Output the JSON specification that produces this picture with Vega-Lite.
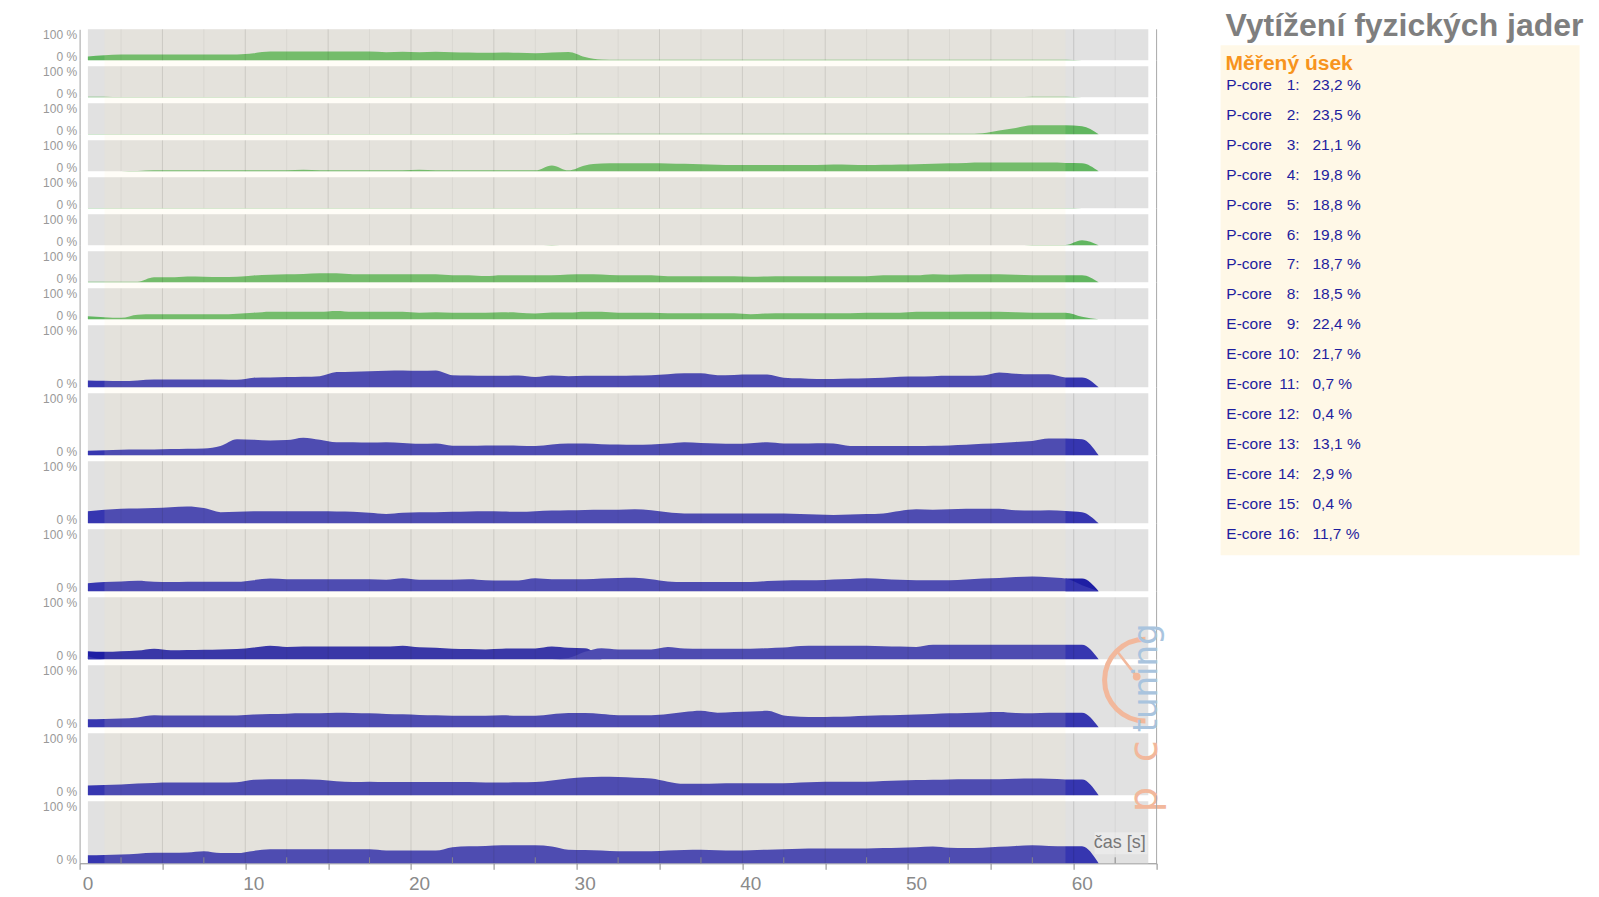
{
"$schema":"https://vega.github.io/schema/vega-lite/v6.json",
"background":"white",
"padding":{"left":41.6,"top":10.3,"right":5,"bottom":0},
"autosize":{"type":"pad"},
"config":{"view":{"stroke":null},"font":"Liberation Sans"},
"datasets":{
"load":[
{"t":0.5,"P1":12,"P2":2,"P3":1,"P4":0.5,"P5":1,"P6":0,"P7":2,"P8":10,"E9":11,"E10":7.5,"E11":19.5,"E12":13,"E13":5,"E14":13,"E15":16,"E16":13,"E13b":13},
{"t":1.5,"P1":16,"P2":2,"P3":1,"P4":0.5,"P5":1,"P6":0,"P7":2,"P8":7,"E9":10.5,"E10":8,"E11":22,"E12":15,"E13":0,"E14":13.5,"E15":16.5,"E16":13.5,"E13b":12},
{"t":2.5,"P1":19,"P2":1,"P3":1,"P4":0.5,"P5":1,"P6":0,"P7":2,"P8":5,"E9":10,"E10":9,"E11":23.5,"E12":16,"E13":0,"E14":14,"E15":17.5,"E16":14,"E13b":13},
{"t":3.5,"P1":19,"P2":1,"P3":1,"P4":1,"P5":1,"P6":0,"P7":2,"P8":15,"E9":11,"E10":9.5,"E11":24,"E12":17,"E13":0,"E14":16,"E15":19,"E16":15.5,"E13b":14},
{"t":4.5,"P1":19,"P2":1,"P3":1,"P4":3,"P5":1,"P6":0,"P7":16,"P8":16,"E9":12.5,"E10":9.5,"E11":24.5,"E12":15.5,"E13":0,"E14":19.5,"E15":20,"E16":17,"E13b":17},
{"t":5.5,"P1":19,"P2":1,"P3":1,"P4":3,"P5":1,"P6":0,"P7":16,"P8":16,"E9":12.5,"E10":10,"E11":26,"E12":15,"E13":0,"E14":19,"E15":20.5,"E16":17,"E13b":14.5},
{"t":6.5,"P1":19,"P2":1,"P3":1,"P4":3,"P5":1,"P6":0,"P7":19,"P8":16,"E9":12.5,"E10":10.5,"E11":27,"E12":15.5,"E13":0,"E14":19,"E15":20.5,"E16":17.5,"E13b":15},
{"t":7.5,"P1":19,"P2":1,"P3":1,"P4":3,"P5":1,"P6":0,"P7":18,"P8":16,"E9":12.5,"E10":11,"E11":24.5,"E12":15.5,"E13":0,"E14":19,"E15":20.5,"E16":19.5,"E13b":15.5},
{"t":8.5,"P1":19,"P2":1,"P3":1,"P4":3,"P5":1,"P6":0,"P7":17,"P8":16,"E9":12.5,"E10":15,"E11":18,"E12":15.5,"E13":0,"E14":19,"E15":20.5,"E16":16.5,"E13b":16},
{"t":9.5,"P1":19,"P2":1,"P3":1,"P4":3,"P5":1,"P6":0,"P7":18,"P8":18,"E9":12,"E10":26,"E11":18.5,"E12":15.5,"E13":0,"E14":19,"E15":21,"E16":16.5,"E13b":16.5},
{"t":10.5,"P1":23,"P2":1,"P3":1,"P4":3,"P5":1,"P6":0,"P7":22,"P8":21,"E9":15.5,"E10":25,"E11":19.5,"E12":18,"E13":0,"E14":20.5,"E15":25,"E16":20,"E13b":19},
{"t":11.5,"P1":28,"P2":1,"P3":1,"P4":3,"P5":1,"P6":0,"P7":24,"P8":24.5,"E9":16,"E10":24,"E11":19.5,"E12":20.5,"E13":0,"E14":21.5,"E15":26,"E16":22.5,"E13b":22},
{"t":12.5,"P1":28,"P2":1,"P3":1,"P4":3,"P5":1,"P6":0,"P7":26,"P8":24.5,"E9":16.5,"E10":24.5,"E11":19.5,"E12":19.5,"E13":0,"E14":22,"E15":26,"E16":22.5,"E13b":20},
{"t":13.5,"P1":28,"P2":1,"P3":1,"P4":5,"P5":1,"P6":0,"P7":27,"P8":24.5,"E9":17,"E10":28.5,"E11":19.5,"E12":19.5,"E13":0,"E14":22.5,"E15":26,"E16":22.5,"E13b":20.5},
{"t":14.5,"P1":28,"P2":1,"P3":1,"P4":3,"P5":1,"P6":0,"P7":29,"P8":24.5,"E9":18,"E10":25,"E11":19.5,"E12":19.5,"E13":0,"E14":22.5,"E15":25,"E16":22.5,"E13b":20.5},
{"t":15.5,"P1":28,"P2":1,"P3":1,"P4":3,"P5":1,"P6":0,"P7":29,"P8":27,"E9":24.5,"E10":21,"E11":19,"E12":19.5,"E13":0,"E14":23.5,"E15":22.5,"E16":22.5,"E13b":20.5},
{"t":16.5,"P1":28,"P2":1,"P3":1,"P4":3,"P5":1,"P6":0,"P7":26,"P8":24.5,"E9":25,"E10":21,"E11":18.5,"E12":19.5,"E13":0,"E14":23,"E15":21.5,"E16":22.5,"E13b":20.5},
{"t":17.5,"P1":28,"P2":1,"P3":1,"P4":3,"P5":1,"P6":0,"P7":26,"P8":24.5,"E9":26,"E10":20.5,"E11":17,"E12":19.5,"E13":0,"E14":22.5,"E15":22,"E16":22.5,"E13b":20.5},
{"t":18.5,"P1":26,"P2":1,"P3":1,"P4":3,"P5":1,"P6":0,"P7":26,"P8":24.5,"E9":26.5,"E10":21,"E11":15,"E12":18.5,"E13":0,"E14":21.5,"E15":21.5,"E16":20.5,"E13b":20.5},
{"t":19.5,"P1":27.5,"P2":1,"P3":1,"P4":3,"P5":1,"P6":0,"P7":26,"P8":24.5,"E9":27,"E10":20,"E11":17,"E12":21,"E13":0,"E14":21,"E15":21.5,"E16":20.5,"E13b":22},
{"t":20.5,"P1":26,"P2":1,"P3":1,"P4":5,"P5":1,"P6":0,"P7":26,"P8":21.5,"E9":26.5,"E10":18.5,"E11":18,"E12":18.5,"E13":0,"E14":20,"E15":21.5,"E16":20.5,"E13b":19.5},
{"t":21.5,"P1":27.5,"P2":1,"P3":1,"P4":3,"P5":1,"P6":0,"P7":26,"P8":23,"E9":27,"E10":19,"E11":18,"E12":18.5,"E13":0,"E14":19.5,"E15":21.5,"E16":20.5,"E13b":18.5},
{"t":22.5,"P1":26,"P2":1,"P3":1,"P4":3,"P5":1,"P6":0,"P7":23,"P8":21.5,"E9":19.5,"E10":15.5,"E11":18.5,"E12":18.5,"E13":0,"E14":18.5,"E15":21.5,"E16":26,"E13b":17},
{"t":23.5,"P1":25,"P2":1,"P3":1,"P4":3,"P5":1,"P6":0,"P7":23,"P8":21.5,"E9":19,"E10":15.5,"E11":19,"E12":19.5,"E13":0,"E14":18.5,"E15":21.5,"E16":27.5,"E13b":16.5},
{"t":24.5,"P1":24,"P2":1,"P3":1,"P4":3,"P5":1,"P6":0,"P7":20,"P8":21.5,"E9":18.5,"E10":16,"E11":19.5,"E12":18,"E13":0,"E14":18.5,"E15":20.5,"E16":28,"E13b":16},
{"t":25.5,"P1":25.5,"P2":1,"P3":1,"P4":3,"P5":1,"P6":0,"P7":22.5,"P8":22.5,"E9":18.5,"E10":16,"E11":19,"E12":17.5,"E13":0,"E14":19.5,"E15":20.5,"E16":29,"E13b":17},
{"t":26.5,"P1":24,"P2":1,"P3":1,"P4":3,"P5":1,"P6":0,"P7":22.5,"P8":21.5,"E9":19,"E10":15.5,"E11":18.5,"E12":17.5,"E13":0,"E14":18.5,"E15":21,"E16":29,"E13b":17.5},
{"t":27.5,"P1":23,"P2":1,"P3":1,"P4":3,"P5":1,"P6":0,"P7":22.5,"P8":19,"E9":16.5,"E10":15,"E11":19.5,"E12":21,"E13":0,"E14":18.5,"E15":21.5,"E16":29,"E13b":17.5},
{"t":28.5,"P1":25,"P2":1,"P3":1,"P4":19,"P5":1,"P6":1,"P7":22.5,"P8":22,"E9":19,"E10":17.5,"E11":20.5,"E12":19.5,"E13":0,"E14":21,"E15":24,"E16":27,"E13b":20.5},
{"t":29.5,"P1":27,"P2":1,"P3":1,"P4":3,"P5":1,"P6":0,"P7":25,"P8":22,"E9":18,"E10":19,"E11":21,"E12":19.5,"E13":2,"E14":23,"E15":27,"E16":22,"E13b":18.5},
{"t":30.5,"P1":11,"P2":1,"P3":1.5,"P4":19,"P5":1,"P6":0,"P7":26,"P8":24.5,"E9":18.5,"E10":19,"E11":21.5,"E12":19.5,"E13":12,"E14":23,"E15":29,"E16":21.5,"E13b":18},
{"t":31.5,"P1":2.5,"P2":1,"P3":1.5,"P4":25,"P5":1,"P6":0,"P7":25,"P8":24.5,"E9":18.5,"E10":18,"E11":22,"E12":20.5,"E13":18,"E14":21.5,"E15":30,"E16":20.5,"E13b":0},
{"t":32.5,"P1":1.5,"P2":1,"P3":1.5,"P4":26,"P5":1,"P6":0,"P7":22.5,"P8":21.5,"E9":18.5,"E10":17.5,"E11":22,"E12":21.5,"E13":16,"E14":19.5,"E15":29.5,"E16":19.5},
{"t":33.5,"P1":1.5,"P2":1,"P3":1.5,"P4":26,"P5":1,"P6":0,"P7":22.5,"P8":21.5,"E9":19,"E10":17,"E11":22.5,"E12":22,"E13":16,"E14":19.5,"E15":28.5,"E16":19.5},
{"t":34.5,"P1":1.5,"P2":1,"P3":1.5,"P4":26,"P5":1,"P6":0,"P7":22.5,"P8":21.5,"E9":19.5,"E10":17.5,"E11":21,"E12":19.5,"E13":16,"E14":19.5,"E15":27,"E16":19.5},
{"t":35.5,"P1":1.5,"P2":1,"P3":1.5,"P4":25,"P5":1,"P6":0,"P7":19.5,"P8":19.5,"E9":21,"E10":19,"E11":18,"E12":16,"E13":20,"E14":21.5,"E15":22,"E16":20.5},
{"t":36.5,"P1":1.5,"P2":1,"P3":1.5,"P4":24,"P5":1,"P6":0,"P7":19.5,"P8":19.5,"E9":22.5,"E10":21,"E11":16,"E12":15,"E13":17.5,"E14":24.5,"E15":18.5,"E16":21.5},
{"t":37.5,"P1":1.5,"P2":1,"P3":1.5,"P4":22.5,"P5":1,"P6":0,"P7":19.5,"P8":19.5,"E9":22.5,"E10":20,"E11":16,"E12":15,"E13":17,"E14":26.5,"E15":18.5,"E16":22},
{"t":38.5,"P1":1.5,"P2":1,"P3":1.5,"P4":21,"P5":1,"P6":0,"P7":19.5,"P8":19.5,"E9":19.5,"E10":19,"E11":16,"E12":15,"E13":17,"E14":23.5,"E15":19,"E16":21},
{"t":39.5,"P1":1.5,"P2":1,"P3":1.5,"P4":20,"P5":1,"P6":0,"P7":19.5,"P8":19.5,"E9":20,"E10":18.5,"E11":16,"E12":15,"E13":17,"E14":24.5,"E15":19.5,"E16":20.5},
{"t":40.5,"P1":1.5,"P2":1,"P3":1.5,"P4":20,"P5":1,"P6":0,"P7":18,"P8":16.5,"E9":20.5,"E10":19.5,"E11":16,"E12":15,"E13":17,"E14":25.5,"E15":19.5,"E16":21},
{"t":41.5,"P1":1.5,"P2":1,"P3":1.5,"P4":20,"P5":1,"P6":0,"P7":19,"P8":19,"E9":20.5,"E10":21,"E11":16,"E12":16.5,"E13":18,"E14":26.5,"E15":19.5,"E16":22},
{"t":42.5,"P1":1.5,"P2":1,"P3":1.5,"P4":20,"P5":1,"P6":0,"P7":19.5,"P8":19.5,"E9":15.5,"E10":19,"E11":16,"E12":17.5,"E13":19,"E14":19,"E15":19.5,"E16":22.5},
{"t":43.5,"P1":1.5,"P2":1,"P3":1.5,"P4":20,"P5":1,"P6":0,"P7":19.5,"P8":19.5,"E9":14.5,"E10":19,"E11":15,"E12":18,"E13":21.5,"E14":17,"E15":20.5,"E16":23.5},
{"t":44.5,"P1":1.5,"P2":1,"P3":1.5,"P4":20,"P5":1,"P6":0,"P7":19.5,"P8":19.5,"E9":13.5,"E10":19.5,"E11":14,"E12":18,"E13":22,"E14":16.5,"E15":21.5,"E16":24},
{"t":45.5,"P1":1.5,"P2":1,"P3":1.5,"P4":22,"P5":1,"P6":0,"P7":19.5,"P8":19.5,"E9":13.5,"E10":19,"E11":13.5,"E12":19,"E13":22,"E14":17,"E15":22,"E16":24},
{"t":46.5,"P1":1.5,"P2":1,"P3":1.5,"P4":21,"P5":1,"P6":0,"P7":19.5,"P8":19.5,"E9":14,"E10":15,"E11":14,"E12":20,"E13":22,"E14":17.5,"E15":22,"E16":24},
{"t":47.5,"P1":1.5,"P2":1,"P3":1.5,"P4":20,"P5":1,"P6":0,"P7":19.5,"P8":21.5,"E9":14.5,"E10":15,"E11":15,"E12":21,"E13":22,"E14":18.5,"E15":22,"E16":24},
{"t":48.5,"P1":1.5,"P2":1,"P3":1.5,"P4":21,"P5":1,"P6":0,"P7":22.5,"P8":21.5,"E9":15.5,"E10":15,"E11":16,"E12":20,"E13":21,"E14":19.5,"E15":23,"E16":24.5},
{"t":49.5,"P1":1.5,"P2":1,"P3":1.5,"P4":22,"P5":1,"P6":0,"P7":22.5,"P8":21.5,"E9":17,"E10":15,"E11":20,"E12":18.5,"E13":20.5,"E14":20,"E15":24,"E16":25},
{"t":50.5,"P1":1.5,"P2":1,"P3":1.5,"P4":23,"P5":1,"P6":0,"P7":22.5,"P8":24.5,"E9":17.5,"E10":15,"E11":22.5,"E12":18,"E13":20,"E14":20.5,"E15":24.5,"E16":26},
{"t":51.5,"P1":1.5,"P2":1,"P3":1.5,"P4":24,"P5":1,"P6":0,"P7":26,"P8":24.5,"E9":18,"E10":15.5,"E11":22,"E12":18,"E13":23.5,"E14":21.5,"E15":25,"E16":27},
{"t":52.5,"P1":1.5,"P2":1,"P3":1.5,"P4":26,"P5":1,"P6":0,"P7":24,"P8":24.5,"E9":18.5,"E10":16,"E11":22.5,"E12":18,"E13":23.5,"E14":22.5,"E15":25.5,"E16":25},
{"t":53.5,"P1":1.5,"P2":1,"P3":1.5,"P4":27,"P5":1,"P6":0,"P7":26,"P8":24.5,"E9":18.5,"E10":17,"E11":23.5,"E12":19,"E13":23.5,"E14":23,"E15":26,"E16":24.5},
{"t":54.5,"P1":1.5,"P2":1,"P3":3.5,"P4":28,"P5":1,"P6":0,"P7":26,"P8":24.5,"E9":19,"E10":18.5,"E11":23.5,"E12":20.5,"E13":23.5,"E14":24,"E15":26,"E16":25},
{"t":55.5,"P1":1.5,"P2":1,"P3":12,"P4":28,"P5":1,"P6":0,"P7":26,"P8":24.5,"E9":24,"E10":20,"E11":23.5,"E12":21.5,"E13":23.5,"E14":24.5,"E15":26,"E16":26.5},
{"t":56.5,"P1":1.5,"P2":1,"P3":20.5,"P4":28,"P5":1,"P6":0,"P7":24,"P8":23,"E9":22,"E10":21.5,"E11":21,"E12":23,"E13":23.5,"E14":23,"E15":26.5,"E16":28},
{"t":57.5,"P1":1.5,"P2":2,"P3":29,"P4":28,"P5":1,"P6":1,"P7":22.5,"P8":21.5,"E9":21,"E10":23,"E11":20.5,"E12":24,"E13":23.5,"E14":22.5,"E15":27,"E16":29},
{"t":58.5,"P1":1.5,"P2":2,"P3":29,"P4":28,"P5":1,"P6":1,"P7":22.5,"P8":21.5,"E9":21,"E10":27,"E11":21,"E12":22.5,"E13":23.5,"E14":23.5,"E15":26.5,"E16":28},
{"t":59.5,"P1":1.5,"P2":2,"P3":29,"P4":27,"P5":1,"P6":1,"P7":22.5,"P8":21.5,"E9":16,"E10":27,"E11":20,"E12":20.5,"E13":23.5,"E14":23.5,"E15":25.5,"E16":27.5,"E12b":20.5},
{"t":60.5,"P1":0,"P2":0.5,"P3":26,"P4":26,"P5":0.5,"P6":16,"P7":22.5,"P8":8.5,"E9":16,"E10":26,"E11":18,"E12":9.7,"E13":23.5,"E14":23.5,"E15":25.5,"E16":27.5,"E12b":20.5},
{"t":61.5,"P1":0,"P2":0,"P3":0,"P4":0,"P5":0,"P6":0,"P7":0,"P8":0,"E9":0,"E10":0,"E11":0,"E12":0,"E13":0,"E14":0,"E15":0,"E16":0,"E12b":0}
],
"grid":[{"g":2.5},{"g":5},{"g":7.5},{"g":10},{"g":12.5},{"g":15},{"g":17.5},{"g":20},{"g":22.5},{"g":25},{"g":27.5},{"g":30},{"g":32.5},{"g":35},{"g":37.5},{"g":40},{"g":42.5},{"g":45},{"g":47.5},{"g":50},{"g":52.5},{"g":55},{"g":57.5},{"g":60},{"g":62.5}],
"legend":[
{"id":"P1","kind":"P-core","num":"1:","val":"23,2 %"},
{"id":"P2","kind":"P-core","num":"2:","val":"23,5 %"},
{"id":"P3","kind":"P-core","num":"3:","val":"21,1 %"},
{"id":"P4","kind":"P-core","num":"4:","val":"19,8 %"},
{"id":"P5","kind":"P-core","num":"5:","val":"18,8 %"},
{"id":"P6","kind":"P-core","num":"6:","val":"19,8 %"},
{"id":"P7","kind":"P-core","num":"7:","val":"18,7 %"},
{"id":"P8","kind":"P-core","num":"8:","val":"18,5 %"},
{"id":"E9","kind":"E-core","num":"9:","val":"22,4 %"},
{"id":"E10","kind":"E-core","num":"10:","val":"21,7 %"},
{"id":"E11","kind":"E-core","num":"11:","val":"0,7 %"},
{"id":"E12","kind":"E-core","num":"12:","val":"0,4 %"},
{"id":"E13","kind":"E-core","num":"13:","val":"13,1 %"},
{"id":"E14","kind":"E-core","num":"14:","val":"2,9 %"},
{"id":"E15","kind":"E-core","num":"15:","val":"0,4 %"},
{"id":"E16","kind":"E-core","num":"16:","val":"11,7 %"}
]
},
"spacing":56,
"hconcat":[
{"spacing":0,"bounds":"flush","vconcat":[
{"width":1077,"height":31,"layer":[
{"data":{"values":[{}]},"mark":{"type":"rect","fill":"#e1e1e1"},"encoding":{"x":{"datum":0.5,"type":"quantitative","scale":{"domain":[0,65],"nice":false,"zero":false},"axis":null},"x2":{"datum":64.5},"y":{"datum":0,"type":"quantitative","scale":{"domain":[0,100],"nice":false,"zero":false},"axis":{"values":[0,100],"labelExpr":"datum.value + ' %'","ticks":false,"grid":false,"domainColor":"#a0a0a0","labelColor":"#999999","labelFontSize":12,"labelPadding":3,"labelBaseline":{"condition":{"test":"datum.value === 100","value":"top"},"value":"alphabetic"},"title":null,"labelOverlap":false,"labelBound":false}},"y2":{"datum":100}}},
{"data":{"name":"load"},"mark":{"type":"area","color":"#61b660","interpolate":"monotone","orient":"vertical"},"encoding":{"x":{"field":"t","type":"quantitative","axis":null},"y":{"field":"P1","type":"quantitative","stack":null,"title":null}}},
{"data":{"name":"grid"},"mark":{"type":"rule","color":"#000000"},"encoding":{"x":{"field":"g","type":"quantitative","axis":null},"y":{"datum":0,"type":"quantitative","title":null},"y2":{"datum":100},"strokeOpacity":{"condition":{"test":"datum.g % 5 === 0","value":0.13},"value":0.06}}},
{"data":{"values":[{}]},"mark":{"type":"rect","fill":"#ffeec0","opacity":0.12},"encoding":{"x":{"datum":1.5,"type":"quantitative","axis":null},"x2":{"datum":59.5},"y":{"datum":0,"type":"quantitative","title":null},"y2":{"datum":100}}},
{"data":{"values":[{}]},"mark":{"type":"rule","color":"#a8a8a8"},"encoding":{"x":{"datum":65,"type":"quantitative","axis":null},"y":{"datum":0,"type":"quantitative","title":null},"y2":{"datum":100}}}
]},
{"width":1077,"height":37,"layer":[
{"data":{"values":[{}]},"mark":{"type":"rect","fill":"#e1e1e1"},"encoding":{"x":{"datum":0.5,"type":"quantitative","scale":{"domain":[0,65],"nice":false,"zero":false},"axis":null},"x2":{"datum":64.5},"y":{"datum":0,"type":"quantitative","scale":{"domain":[0,119.355],"nice":false,"zero":false},"axis":{"values":[0,100],"labelExpr":"datum.value + ' %'","ticks":false,"grid":false,"domainColor":"#a0a0a0","labelColor":"#999999","labelFontSize":12,"labelPadding":3,"labelBaseline":{"condition":{"test":"datum.value === 100","value":"top"},"value":"alphabetic"},"title":null,"labelOverlap":false,"labelBound":false}},"y2":{"datum":100}}},
{"data":{"name":"load"},"mark":{"type":"area","color":"#61b660","interpolate":"monotone","orient":"vertical"},"encoding":{"x":{"field":"t","type":"quantitative","axis":null},"y":{"field":"P2","type":"quantitative","stack":null,"title":null}}},
{"data":{"name":"grid"},"mark":{"type":"rule","color":"#000000"},"encoding":{"x":{"field":"g","type":"quantitative","axis":null},"y":{"datum":0,"type":"quantitative","title":null},"y2":{"datum":100},"strokeOpacity":{"condition":{"test":"datum.g % 5 === 0","value":0.13},"value":0.06}}},
{"data":{"values":[{}]},"mark":{"type":"rect","fill":"#ffeec0","opacity":0.12},"encoding":{"x":{"datum":1.5,"type":"quantitative","axis":null},"x2":{"datum":59.5},"y":{"datum":0,"type":"quantitative","title":null},"y2":{"datum":119.355}}},
{"data":{"values":[{}]},"mark":{"type":"rule","color":"#a8a8a8"},"encoding":{"x":{"datum":65,"type":"quantitative","axis":null},"y":{"datum":0,"type":"quantitative","title":null},"y2":{"datum":119.355}}}
]},
{"width":1077,"height":37,"layer":[
{"data":{"values":[{}]},"mark":{"type":"rect","fill":"#e1e1e1"},"encoding":{"x":{"datum":0.5,"type":"quantitative","scale":{"domain":[0,65],"nice":false,"zero":false},"axis":null},"x2":{"datum":64.5},"y":{"datum":0,"type":"quantitative","scale":{"domain":[0,119.355],"nice":false,"zero":false},"axis":{"values":[0,100],"labelExpr":"datum.value + ' %'","ticks":false,"grid":false,"domainColor":"#a0a0a0","labelColor":"#999999","labelFontSize":12,"labelPadding":3,"labelBaseline":{"condition":{"test":"datum.value === 100","value":"top"},"value":"alphabetic"},"title":null,"labelOverlap":false,"labelBound":false}},"y2":{"datum":100}}},
{"data":{"name":"load"},"mark":{"type":"area","color":"#61b660","interpolate":"monotone","orient":"vertical"},"encoding":{"x":{"field":"t","type":"quantitative","axis":null},"y":{"field":"P3","type":"quantitative","stack":null,"title":null}}},
{"data":{"name":"grid"},"mark":{"type":"rule","color":"#000000"},"encoding":{"x":{"field":"g","type":"quantitative","axis":null},"y":{"datum":0,"type":"quantitative","title":null},"y2":{"datum":100},"strokeOpacity":{"condition":{"test":"datum.g % 5 === 0","value":0.13},"value":0.06}}},
{"data":{"values":[{}]},"mark":{"type":"rect","fill":"#ffeec0","opacity":0.12},"encoding":{"x":{"datum":1.5,"type":"quantitative","axis":null},"x2":{"datum":59.5},"y":{"datum":0,"type":"quantitative","title":null},"y2":{"datum":119.355}}},
{"data":{"values":[{}]},"mark":{"type":"rule","color":"#a8a8a8"},"encoding":{"x":{"datum":65,"type":"quantitative","axis":null},"y":{"datum":0,"type":"quantitative","title":null},"y2":{"datum":119.355}}}
]},
{"width":1077,"height":37,"layer":[
{"data":{"values":[{}]},"mark":{"type":"rect","fill":"#e1e1e1"},"encoding":{"x":{"datum":0.5,"type":"quantitative","scale":{"domain":[0,65],"nice":false,"zero":false},"axis":null},"x2":{"datum":64.5},"y":{"datum":0,"type":"quantitative","scale":{"domain":[0,119.355],"nice":false,"zero":false},"axis":{"values":[0,100],"labelExpr":"datum.value + ' %'","ticks":false,"grid":false,"domainColor":"#a0a0a0","labelColor":"#999999","labelFontSize":12,"labelPadding":3,"labelBaseline":{"condition":{"test":"datum.value === 100","value":"top"},"value":"alphabetic"},"title":null,"labelOverlap":false,"labelBound":false}},"y2":{"datum":100}}},
{"data":{"name":"load"},"mark":{"type":"area","color":"#61b660","interpolate":"monotone","orient":"vertical"},"encoding":{"x":{"field":"t","type":"quantitative","axis":null},"y":{"field":"P4","type":"quantitative","stack":null,"title":null}}},
{"data":{"name":"grid"},"mark":{"type":"rule","color":"#000000"},"encoding":{"x":{"field":"g","type":"quantitative","axis":null},"y":{"datum":0,"type":"quantitative","title":null},"y2":{"datum":100},"strokeOpacity":{"condition":{"test":"datum.g % 5 === 0","value":0.13},"value":0.06}}},
{"data":{"values":[{}]},"mark":{"type":"rect","fill":"#ffeec0","opacity":0.12},"encoding":{"x":{"datum":1.5,"type":"quantitative","axis":null},"x2":{"datum":59.5},"y":{"datum":0,"type":"quantitative","title":null},"y2":{"datum":119.355}}},
{"data":{"values":[{}]},"mark":{"type":"rule","color":"#a8a8a8"},"encoding":{"x":{"datum":65,"type":"quantitative","axis":null},"y":{"datum":0,"type":"quantitative","title":null},"y2":{"datum":119.355}}}
]},
{"width":1077,"height":37,"layer":[
{"data":{"values":[{}]},"mark":{"type":"rect","fill":"#e1e1e1"},"encoding":{"x":{"datum":0.5,"type":"quantitative","scale":{"domain":[0,65],"nice":false,"zero":false},"axis":null},"x2":{"datum":64.5},"y":{"datum":0,"type":"quantitative","scale":{"domain":[0,119.355],"nice":false,"zero":false},"axis":{"values":[0,100],"labelExpr":"datum.value + ' %'","ticks":false,"grid":false,"domainColor":"#a0a0a0","labelColor":"#999999","labelFontSize":12,"labelPadding":3,"labelBaseline":{"condition":{"test":"datum.value === 100","value":"top"},"value":"alphabetic"},"title":null,"labelOverlap":false,"labelBound":false}},"y2":{"datum":100}}},
{"data":{"name":"load"},"mark":{"type":"area","color":"#61b660","interpolate":"monotone","orient":"vertical"},"encoding":{"x":{"field":"t","type":"quantitative","axis":null},"y":{"field":"P5","type":"quantitative","stack":null,"title":null}}},
{"data":{"name":"grid"},"mark":{"type":"rule","color":"#000000"},"encoding":{"x":{"field":"g","type":"quantitative","axis":null},"y":{"datum":0,"type":"quantitative","title":null},"y2":{"datum":100},"strokeOpacity":{"condition":{"test":"datum.g % 5 === 0","value":0.13},"value":0.06}}},
{"data":{"values":[{}]},"mark":{"type":"rect","fill":"#ffeec0","opacity":0.12},"encoding":{"x":{"datum":1.5,"type":"quantitative","axis":null},"x2":{"datum":59.5},"y":{"datum":0,"type":"quantitative","title":null},"y2":{"datum":119.355}}},
{"data":{"values":[{}]},"mark":{"type":"rule","color":"#a8a8a8"},"encoding":{"x":{"datum":65,"type":"quantitative","axis":null},"y":{"datum":0,"type":"quantitative","title":null},"y2":{"datum":119.355}}}
]},
{"width":1077,"height":37,"layer":[
{"data":{"values":[{}]},"mark":{"type":"rect","fill":"#e1e1e1"},"encoding":{"x":{"datum":0.5,"type":"quantitative","scale":{"domain":[0,65],"nice":false,"zero":false},"axis":null},"x2":{"datum":64.5},"y":{"datum":0,"type":"quantitative","scale":{"domain":[0,119.355],"nice":false,"zero":false},"axis":{"values":[0,100],"labelExpr":"datum.value + ' %'","ticks":false,"grid":false,"domainColor":"#a0a0a0","labelColor":"#999999","labelFontSize":12,"labelPadding":3,"labelBaseline":{"condition":{"test":"datum.value === 100","value":"top"},"value":"alphabetic"},"title":null,"labelOverlap":false,"labelBound":false}},"y2":{"datum":100}}},
{"data":{"name":"load"},"mark":{"type":"area","color":"#61b660","interpolate":"monotone","orient":"vertical"},"encoding":{"x":{"field":"t","type":"quantitative","axis":null},"y":{"field":"P6","type":"quantitative","stack":null,"title":null}}},
{"data":{"name":"grid"},"mark":{"type":"rule","color":"#000000"},"encoding":{"x":{"field":"g","type":"quantitative","axis":null},"y":{"datum":0,"type":"quantitative","title":null},"y2":{"datum":100},"strokeOpacity":{"condition":{"test":"datum.g % 5 === 0","value":0.13},"value":0.06}}},
{"data":{"values":[{}]},"mark":{"type":"rect","fill":"#ffeec0","opacity":0.12},"encoding":{"x":{"datum":1.5,"type":"quantitative","axis":null},"x2":{"datum":59.5},"y":{"datum":0,"type":"quantitative","title":null},"y2":{"datum":119.355}}},
{"data":{"values":[{}]},"mark":{"type":"rule","color":"#a8a8a8"},"encoding":{"x":{"datum":65,"type":"quantitative","axis":null},"y":{"datum":0,"type":"quantitative","title":null},"y2":{"datum":119.355}}}
]},
{"width":1077,"height":37,"layer":[
{"data":{"values":[{}]},"mark":{"type":"rect","fill":"#e1e1e1"},"encoding":{"x":{"datum":0.5,"type":"quantitative","scale":{"domain":[0,65],"nice":false,"zero":false},"axis":null},"x2":{"datum":64.5},"y":{"datum":0,"type":"quantitative","scale":{"domain":[0,119.355],"nice":false,"zero":false},"axis":{"values":[0,100],"labelExpr":"datum.value + ' %'","ticks":false,"grid":false,"domainColor":"#a0a0a0","labelColor":"#999999","labelFontSize":12,"labelPadding":3,"labelBaseline":{"condition":{"test":"datum.value === 100","value":"top"},"value":"alphabetic"},"title":null,"labelOverlap":false,"labelBound":false}},"y2":{"datum":100}}},
{"data":{"name":"load"},"mark":{"type":"area","color":"#61b660","interpolate":"monotone","orient":"vertical"},"encoding":{"x":{"field":"t","type":"quantitative","axis":null},"y":{"field":"P7","type":"quantitative","stack":null,"title":null}}},
{"data":{"name":"grid"},"mark":{"type":"rule","color":"#000000"},"encoding":{"x":{"field":"g","type":"quantitative","axis":null},"y":{"datum":0,"type":"quantitative","title":null},"y2":{"datum":100},"strokeOpacity":{"condition":{"test":"datum.g % 5 === 0","value":0.13},"value":0.06}}},
{"data":{"values":[{}]},"mark":{"type":"rect","fill":"#ffeec0","opacity":0.12},"encoding":{"x":{"datum":1.5,"type":"quantitative","axis":null},"x2":{"datum":59.5},"y":{"datum":0,"type":"quantitative","title":null},"y2":{"datum":119.355}}},
{"data":{"values":[{}]},"mark":{"type":"rule","color":"#a8a8a8"},"encoding":{"x":{"datum":65,"type":"quantitative","axis":null},"y":{"datum":0,"type":"quantitative","title":null},"y2":{"datum":119.355}}}
]},
{"width":1077,"height":37,"layer":[
{"data":{"values":[{}]},"mark":{"type":"rect","fill":"#e1e1e1"},"encoding":{"x":{"datum":0.5,"type":"quantitative","scale":{"domain":[0,65],"nice":false,"zero":false},"axis":null},"x2":{"datum":64.5},"y":{"datum":0,"type":"quantitative","scale":{"domain":[0,119.355],"nice":false,"zero":false},"axis":{"values":[0,100],"labelExpr":"datum.value + ' %'","ticks":false,"grid":false,"domainColor":"#a0a0a0","labelColor":"#999999","labelFontSize":12,"labelPadding":3,"labelBaseline":{"condition":{"test":"datum.value === 100","value":"top"},"value":"alphabetic"},"title":null,"labelOverlap":false,"labelBound":false}},"y2":{"datum":100}}},
{"data":{"name":"load"},"mark":{"type":"area","color":"#61b660","interpolate":"monotone","orient":"vertical"},"encoding":{"x":{"field":"t","type":"quantitative","axis":null},"y":{"field":"P8","type":"quantitative","stack":null,"title":null}}},
{"data":{"name":"grid"},"mark":{"type":"rule","color":"#000000"},"encoding":{"x":{"field":"g","type":"quantitative","axis":null},"y":{"datum":0,"type":"quantitative","title":null},"y2":{"datum":100},"strokeOpacity":{"condition":{"test":"datum.g % 5 === 0","value":0.13},"value":0.06}}},
{"data":{"values":[{}]},"mark":{"type":"rect","fill":"#ffeec0","opacity":0.12},"encoding":{"x":{"datum":1.5,"type":"quantitative","axis":null},"x2":{"datum":59.5},"y":{"datum":0,"type":"quantitative","title":null},"y2":{"datum":119.355}}},
{"data":{"values":[{}]},"mark":{"type":"rule","color":"#a8a8a8"},"encoding":{"x":{"datum":65,"type":"quantitative","axis":null},"y":{"datum":0,"type":"quantitative","title":null},"y2":{"datum":119.355}}}
]},
{"width":1077,"height":68,"layer":[
{"data":{"values":[{}]},"mark":{"type":"rect","fill":"#e1e1e1"},"encoding":{"x":{"datum":0.5,"type":"quantitative","scale":{"domain":[0,65],"nice":false,"zero":false},"axis":null},"x2":{"datum":64.5},"y":{"datum":0,"type":"quantitative","scale":{"domain":[0,109.677],"nice":false,"zero":false},"axis":{"values":[0,100],"labelExpr":"datum.value + ' %'","ticks":false,"grid":false,"domainColor":"#a0a0a0","labelColor":"#999999","labelFontSize":12,"labelPadding":3,"labelBaseline":{"condition":{"test":"datum.value === 100","value":"top"},"value":"alphabetic"},"title":null,"labelOverlap":false,"labelBound":false}},"y2":{"datum":100}}},
{"data":{"name":"load"},"mark":{"type":"area","color":"#3636b0","interpolate":"monotone","orient":"vertical"},"encoding":{"x":{"field":"t","type":"quantitative","axis":null},"y":{"field":"E9","type":"quantitative","stack":null,"title":null}}},
{"data":{"name":"grid"},"mark":{"type":"rule","color":"#000000"},"encoding":{"x":{"field":"g","type":"quantitative","axis":null},"y":{"datum":0,"type":"quantitative","title":null},"y2":{"datum":100},"strokeOpacity":{"condition":{"test":"datum.g % 5 === 0","value":0.13},"value":0.06}}},
{"data":{"values":[{}]},"mark":{"type":"rect","fill":"#ffeec0","opacity":0.12},"encoding":{"x":{"datum":1.5,"type":"quantitative","axis":null},"x2":{"datum":59.5},"y":{"datum":0,"type":"quantitative","title":null},"y2":{"datum":109.677}}},
{"data":{"values":[{}]},"mark":{"type":"rule","color":"#a8a8a8"},"encoding":{"x":{"datum":65,"type":"quantitative","axis":null},"y":{"datum":0,"type":"quantitative","title":null},"y2":{"datum":109.677}}}
]},
{"width":1077,"height":68,"layer":[
{"data":{"values":[{}]},"mark":{"type":"rect","fill":"#e1e1e1"},"encoding":{"x":{"datum":0.5,"type":"quantitative","scale":{"domain":[0,65],"nice":false,"zero":false},"axis":null},"x2":{"datum":64.5},"y":{"datum":0,"type":"quantitative","scale":{"domain":[0,109.677],"nice":false,"zero":false},"axis":{"values":[0,100],"labelExpr":"datum.value + ' %'","ticks":false,"grid":false,"domainColor":"#a0a0a0","labelColor":"#999999","labelFontSize":12,"labelPadding":3,"labelBaseline":{"condition":{"test":"datum.value === 100","value":"top"},"value":"alphabetic"},"title":null,"labelOverlap":false,"labelBound":false}},"y2":{"datum":100}}},
{"data":{"name":"load"},"mark":{"type":"area","color":"#3636b0","interpolate":"monotone","orient":"vertical"},"encoding":{"x":{"field":"t","type":"quantitative","axis":null},"y":{"field":"E10","type":"quantitative","stack":null,"title":null}}},
{"data":{"name":"grid"},"mark":{"type":"rule","color":"#000000"},"encoding":{"x":{"field":"g","type":"quantitative","axis":null},"y":{"datum":0,"type":"quantitative","title":null},"y2":{"datum":100},"strokeOpacity":{"condition":{"test":"datum.g % 5 === 0","value":0.13},"value":0.06}}},
{"data":{"values":[{}]},"mark":{"type":"rect","fill":"#ffeec0","opacity":0.12},"encoding":{"x":{"datum":1.5,"type":"quantitative","axis":null},"x2":{"datum":59.5},"y":{"datum":0,"type":"quantitative","title":null},"y2":{"datum":109.677}}},
{"data":{"values":[{}]},"mark":{"type":"rule","color":"#a8a8a8"},"encoding":{"x":{"datum":65,"type":"quantitative","axis":null},"y":{"datum":0,"type":"quantitative","title":null},"y2":{"datum":109.677}}}
]},
{"width":1077,"height":68,"layer":[
{"data":{"values":[{}]},"mark":{"type":"rect","fill":"#e1e1e1"},"encoding":{"x":{"datum":0.5,"type":"quantitative","scale":{"domain":[0,65],"nice":false,"zero":false},"axis":null},"x2":{"datum":64.5},"y":{"datum":0,"type":"quantitative","scale":{"domain":[0,109.677],"nice":false,"zero":false},"axis":{"values":[0,100],"labelExpr":"datum.value + ' %'","ticks":false,"grid":false,"domainColor":"#a0a0a0","labelColor":"#999999","labelFontSize":12,"labelPadding":3,"labelBaseline":{"condition":{"test":"datum.value === 100","value":"top"},"value":"alphabetic"},"title":null,"labelOverlap":false,"labelBound":false}},"y2":{"datum":100}}},
{"data":{"name":"load"},"mark":{"type":"area","color":"#3636b0","interpolate":"monotone","orient":"vertical"},"encoding":{"x":{"field":"t","type":"quantitative","axis":null},"y":{"field":"E11","type":"quantitative","stack":null,"title":null}}},
{"data":{"name":"grid"},"mark":{"type":"rule","color":"#000000"},"encoding":{"x":{"field":"g","type":"quantitative","axis":null},"y":{"datum":0,"type":"quantitative","title":null},"y2":{"datum":100},"strokeOpacity":{"condition":{"test":"datum.g % 5 === 0","value":0.13},"value":0.06}}},
{"data":{"values":[{}]},"mark":{"type":"rect","fill":"#ffeec0","opacity":0.12},"encoding":{"x":{"datum":1.5,"type":"quantitative","axis":null},"x2":{"datum":59.5},"y":{"datum":0,"type":"quantitative","title":null},"y2":{"datum":109.677}}},
{"data":{"values":[{}]},"mark":{"type":"rule","color":"#a8a8a8"},"encoding":{"x":{"datum":65,"type":"quantitative","axis":null},"y":{"datum":0,"type":"quantitative","title":null},"y2":{"datum":109.677}}}
]},
{"width":1077,"height":68,"layer":[
{"data":{"values":[{}]},"mark":{"type":"rect","fill":"#e1e1e1"},"encoding":{"x":{"datum":0.5,"type":"quantitative","scale":{"domain":[0,65],"nice":false,"zero":false},"axis":null},"x2":{"datum":64.5},"y":{"datum":0,"type":"quantitative","scale":{"domain":[0,109.677],"nice":false,"zero":false},"axis":{"values":[0,100],"labelExpr":"datum.value + ' %'","ticks":false,"grid":false,"domainColor":"#a0a0a0","labelColor":"#999999","labelFontSize":12,"labelPadding":3,"labelBaseline":{"condition":{"test":"datum.value === 100","value":"top"},"value":"alphabetic"},"title":null,"labelOverlap":false,"labelBound":false}},"y2":{"datum":100}}},
{"data":{"name":"load"},"mark":{"type":"area","color":"#1e1ea4","interpolate":"monotone","orient":"vertical"},"encoding":{"x":{"field":"t","type":"quantitative","axis":null},"y":{"field":"E12b","type":"quantitative","stack":null,"title":null}}},
{"data":{"name":"load"},"mark":{"type":"area","color":"#3636b0","interpolate":"monotone","orient":"vertical"},"encoding":{"x":{"field":"t","type":"quantitative","axis":null},"y":{"field":"E12","type":"quantitative","stack":null,"title":null}}},
{"data":{"name":"grid"},"mark":{"type":"rule","color":"#000000"},"encoding":{"x":{"field":"g","type":"quantitative","axis":null},"y":{"datum":0,"type":"quantitative","title":null},"y2":{"datum":100},"strokeOpacity":{"condition":{"test":"datum.g % 5 === 0","value":0.13},"value":0.06}}},
{"data":{"values":[{}]},"mark":{"type":"rect","fill":"#ffeec0","opacity":0.12},"encoding":{"x":{"datum":1.5,"type":"quantitative","axis":null},"x2":{"datum":59.5},"y":{"datum":0,"type":"quantitative","title":null},"y2":{"datum":109.677}}},
{"data":{"values":[{}]},"mark":{"type":"rule","color":"#a8a8a8"},"encoding":{"x":{"datum":65,"type":"quantitative","axis":null},"y":{"datum":0,"type":"quantitative","title":null},"y2":{"datum":109.677}}}
]},
{"width":1077,"height":68,"layer":[
{"data":{"values":[{}]},"mark":{"type":"rect","fill":"#e1e1e1"},"encoding":{"x":{"datum":0.5,"type":"quantitative","scale":{"domain":[0,65],"nice":false,"zero":false},"axis":null},"x2":{"datum":64.5},"y":{"datum":0,"type":"quantitative","scale":{"domain":[0,109.677],"nice":false,"zero":false},"axis":{"values":[0,100],"labelExpr":"datum.value + ' %'","ticks":false,"grid":false,"domainColor":"#a0a0a0","labelColor":"#999999","labelFontSize":12,"labelPadding":3,"labelBaseline":{"condition":{"test":"datum.value === 100","value":"top"},"value":"alphabetic"},"title":null,"labelOverlap":false,"labelBound":false}},"y2":{"datum":100}}},
{"data":{"name":"load"},"mark":{"type":"area","color":"#1e1ea4","interpolate":"monotone","orient":"vertical"},"encoding":{"x":{"field":"t","type":"quantitative","axis":null},"y":{"field":"E13b","type":"quantitative","stack":null,"title":null}}},
{"data":{"name":"load"},"mark":{"type":"area","color":"#3636b0","interpolate":"monotone","orient":"vertical"},"encoding":{"x":{"field":"t","type":"quantitative","axis":null},"y":{"field":"E13","type":"quantitative","stack":null,"title":null}}},
{"data":{"name":"grid"},"mark":{"type":"rule","color":"#000000"},"encoding":{"x":{"field":"g","type":"quantitative","axis":null},"y":{"datum":0,"type":"quantitative","title":null},"y2":{"datum":100},"strokeOpacity":{"condition":{"test":"datum.g % 5 === 0","value":0.13},"value":0.06}}},
{"data":{"values":[{}]},"mark":{"type":"rect","fill":"#ffeec0","opacity":0.12},"encoding":{"x":{"datum":1.5,"type":"quantitative","axis":null},"x2":{"datum":59.5},"y":{"datum":0,"type":"quantitative","title":null},"y2":{"datum":109.677}}},
{"data":{"values":[{}]},"mark":{"type":"rule","color":"#a8a8a8"},"encoding":{"x":{"datum":65,"type":"quantitative","axis":null},"y":{"datum":0,"type":"quantitative","title":null},"y2":{"datum":109.677}}}
]},
{"width":1077,"height":68,"layer":[
{"data":{"values":[{}]},"mark":{"type":"rect","fill":"#e1e1e1"},"encoding":{"x":{"datum":0.5,"type":"quantitative","scale":{"domain":[0,65],"nice":false,"zero":false},"axis":null},"x2":{"datum":64.5},"y":{"datum":0,"type":"quantitative","scale":{"domain":[0,109.677],"nice":false,"zero":false},"axis":{"values":[0,100],"labelExpr":"datum.value + ' %'","ticks":false,"grid":false,"domainColor":"#a0a0a0","labelColor":"#999999","labelFontSize":12,"labelPadding":3,"labelBaseline":{"condition":{"test":"datum.value === 100","value":"top"},"value":"alphabetic"},"title":null,"labelOverlap":false,"labelBound":false}},"y2":{"datum":100}}},
{"data":{"name":"load"},"mark":{"type":"area","color":"#3636b0","interpolate":"monotone","orient":"vertical"},"encoding":{"x":{"field":"t","type":"quantitative","axis":null},"y":{"field":"E14","type":"quantitative","stack":null,"title":null}}},
{"data":{"name":"grid"},"mark":{"type":"rule","color":"#000000"},"encoding":{"x":{"field":"g","type":"quantitative","axis":null},"y":{"datum":0,"type":"quantitative","title":null},"y2":{"datum":100},"strokeOpacity":{"condition":{"test":"datum.g % 5 === 0","value":0.13},"value":0.06}}},
{"data":{"values":[{}]},"mark":{"type":"rect","fill":"#ffeec0","opacity":0.12},"encoding":{"x":{"datum":1.5,"type":"quantitative","axis":null},"x2":{"datum":59.5},"y":{"datum":0,"type":"quantitative","title":null},"y2":{"datum":109.677}}},
{"data":{"values":[{}]},"mark":{"type":"rule","color":"#a8a8a8"},"encoding":{"x":{"datum":65,"type":"quantitative","axis":null},"y":{"datum":0,"type":"quantitative","title":null},"y2":{"datum":109.677}}}
]},
{"width":1077,"height":68,"layer":[
{"data":{"values":[{}]},"mark":{"type":"rect","fill":"#e1e1e1"},"encoding":{"x":{"datum":0.5,"type":"quantitative","scale":{"domain":[0,65],"nice":false,"zero":false},"axis":null},"x2":{"datum":64.5},"y":{"datum":0,"type":"quantitative","scale":{"domain":[0,109.677],"nice":false,"zero":false},"axis":{"values":[0,100],"labelExpr":"datum.value + ' %'","ticks":false,"grid":false,"domainColor":"#a0a0a0","labelColor":"#999999","labelFontSize":12,"labelPadding":3,"labelBaseline":{"condition":{"test":"datum.value === 100","value":"top"},"value":"alphabetic"},"title":null,"labelOverlap":false,"labelBound":false}},"y2":{"datum":100}}},
{"data":{"name":"load"},"mark":{"type":"area","color":"#3636b0","interpolate":"monotone","orient":"vertical"},"encoding":{"x":{"field":"t","type":"quantitative","axis":null},"y":{"field":"E15","type":"quantitative","stack":null,"title":null}}},
{"data":{"name":"grid"},"mark":{"type":"rule","color":"#000000"},"encoding":{"x":{"field":"g","type":"quantitative","axis":null},"y":{"datum":0,"type":"quantitative","title":null},"y2":{"datum":100},"strokeOpacity":{"condition":{"test":"datum.g % 5 === 0","value":0.13},"value":0.06}}},
{"data":{"values":[{}]},"mark":{"type":"rect","fill":"#ffeec0","opacity":0.12},"encoding":{"x":{"datum":1.5,"type":"quantitative","axis":null},"x2":{"datum":59.5},"y":{"datum":0,"type":"quantitative","title":null},"y2":{"datum":109.677}}},
{"data":{"values":[{}]},"mark":{"type":"rule","color":"#a8a8a8"},"encoding":{"x":{"datum":65,"type":"quantitative","axis":null},"y":{"datum":0,"type":"quantitative","title":null},"y2":{"datum":109.677}}}
]},
{"width":1077,"height":68,"layer":[
{"data":{"values":[{}]},"mark":{"type":"rect","fill":"#e1e1e1"},"encoding":{"x":{"datum":0.5,"type":"quantitative","scale":{"domain":[0,65],"nice":false,"zero":false},"axis":{"values":[0,5,10,15,20,25,30,35,40,45,50,55,60,65],"labelExpr":"datum.value % 10 === 0 && datum.value <= 60 ? datum.value : ''","tickSize":6,"tickColor":"#888888","domainColor":"#888888","labelColor":"#8a8a8a","labelFontSize":19,"labelOffset":8,"labelPadding":5.5,"labelFlush":false,"labelOverlap":false,"labelBound":false,"grid":false,"title":null,"labelAlign":"center"}},"x2":{"datum":64.5},"y":{"datum":0,"type":"quantitative","scale":{"domain":[0,109.677],"nice":false,"zero":false},"axis":{"values":[0,100],"labelExpr":"datum.value + ' %'","ticks":false,"grid":false,"domainColor":"#a0a0a0","labelColor":"#999999","labelFontSize":12,"labelPadding":3,"labelBaseline":{"condition":{"test":"datum.value === 100","value":"top"},"value":"alphabetic"},"title":null,"labelOverlap":false,"labelBound":false}},"y2":{"datum":100}}},
{"data":{"name":"load"},"mark":{"type":"area","color":"#3636b0","interpolate":"monotone","orient":"vertical"},"encoding":{"x":{"field":"t","type":"quantitative","title":null},"y":{"field":"E16","type":"quantitative","stack":null,"title":null}}},
{"data":{"name":"grid"},"mark":{"type":"rule","color":"#000000"},"encoding":{"x":{"field":"g","type":"quantitative","title":null},"y":{"datum":0,"type":"quantitative","title":null},"y2":{"datum":100},"strokeOpacity":{"condition":{"test":"datum.g % 5 === 0","value":0.13},"value":0.06}}},
{"data":{"values":[{}]},"mark":{"type":"rect","fill":"#ffeec0","opacity":0.12},"encoding":{"x":{"datum":1.5,"type":"quantitative","title":null},"x2":{"datum":59.5},"y":{"datum":0,"type":"quantitative","title":null},"y2":{"datum":109.677}}},
{"data":{"name":"grid"},"transform":[{"filter":"datum.g % 5 !== 0"}],"mark":{"type":"rule","color":"#8a8a8a"},"encoding":{"x":{"field":"g","type":"quantitative","title":null},"y":{"datum":0,"type":"quantitative","title":null},"y2":{"datum":9.7}}},
{"data":{"values":[{}]},"mark":{"type":"rect","fill":"#ffffff","opacity":0.3},"encoding":{"x":{"datum":61.25,"type":"quantitative","title":null},"x2":{"datum":64.45},"y":{"datum":14.5,"type":"quantitative","title":null},"y2":{"datum":50}}},
{"data":{"values":[{}]},"mark":{"type":"text","text":"čas [s]","align":"right","baseline":"alphabetic","fontSize":18,"color":"#777777"},"encoding":{"x":{"datum":64.35,"type":"quantitative","title":null},"y":{"datum":24,"type":"quantitative","title":null}}},
{"data":{"values":[{}]},"mark":{"type":"point","shape":"M0.05,-1A1,1,0,1,0,0.05,1","size":6659,"filled":false,"stroke":"#f2b89c","strokeWidth":5,"opacity":1},"encoding":{"x":{"datum":64.2,"type":"quantitative","title":null},"y":{"datum":295.5,"type":"quantitative","title":null}}},
{"data":{"values":[{}]},"mark":{"type":"rule","color":"#f2b89c","strokeWidth":2.5},"encoding":{"x":{"datum":62.6,"type":"quantitative","title":null},"x2":{"datum":63.8},"y":{"datum":342.4,"type":"quantitative","title":null},"y2":{"datum":301.1}}},
{"data":{"values":[{}]},"mark":{"type":"point","filled":true,"size":60,"color":"#f2b89c","opacity":1},"encoding":{"x":{"datum":63.8,"type":"quantitative","title":null},"y":{"datum":301.1,"type":"quantitative","title":null}}},
{"data":{"values":[{}]},"mark":{"type":"text","text":"tuning","angle":270,"align":"left","baseline":"alphabetic","font":"DejaVu Sans","fontSize":34,"color":"#a9c4de"},"encoding":{"x":{"datum":65.0,"type":"quantitative","title":null},"y":{"datum":211.3,"type":"quantitative","title":null}}},
{"data":{"values":[{}]},"mark":{"type":"text","text":"c","angle":270,"align":"left","baseline":"alphabetic","font":"DejaVu Sans","fontSize":40,"color":"#f2b89c"},"encoding":{"x":{"datum":65.0,"type":"quantitative","title":null},"y":{"datum":162.9,"type":"quantitative","title":null}}},
{"data":{"values":[{}]},"mark":{"type":"text","text":"p","angle":270,"align":"left","baseline":"alphabetic","font":"DejaVu Sans","fontSize":40,"color":"#f2b89c"},"encoding":{"x":{"datum":65.0,"type":"quantitative","title":null},"y":{"datum":82.3,"type":"quantitative","title":null}}},
{"data":{"values":[{}]},"mark":{"type":"rule","color":"#a8a8a8"},"encoding":{"x":{"datum":65,"type":"quantitative","title":null},"y":{"datum":0,"type":"quantitative","title":null},"y2":{"datum":109.677}}}
]}
]},
{"width":359,"height":526,
"title":{"text":"Vytížení fyzických jader","subtitle":"Měřený úsek","anchor":"start","frame":"group","fontSize":32,"fontWeight":"bold","color":"#7f7f7f","subtitleFontSize":21,"subtitleFontWeight":"bold","subtitleColor":"#f7941d","subtitlePadding":9.8,"offset":-45.8,"dx":5},
"resolve":{"scale":{"y":"independent"}},
"layer":[
{"data":{"values":[{}]},"mark":{"type":"rect","fill":"#fff8e7"},"encoding":{"x":{"datum":0,"type":"quantitative","scale":{"domain":[0,100],"nice":false,"zero":false},"axis":null},"x2":{"datum":100},"y":{"datum":0,"type":"quantitative","scale":{"domain":[0,1],"nice":false,"zero":false},"axis":null},"y2":{"datum":0.9696}}},
{"data":{"name":"legend"},"mark":{"type":"text","align":"left","baseline":"middle","fontSize":15.5,"color":"#1e1e9e"},"encoding":{"y":{"field":"id","type":"ordinal","sort":null,"scale":{"type":"band","paddingInner":0,"paddingOuter":0.796,"align":0.858},"axis":null},"x":{"datum":1.6,"type":"quantitative","axis":null},"text":{"field":"kind"}}},
{"data":{"name":"legend"},"mark":{"type":"text","align":"right","baseline":"middle","fontSize":15.5,"color":"#1e1e9e"},"encoding":{"y":{"field":"id","type":"ordinal","sort":null,"scale":{"type":"band","paddingInner":0,"paddingOuter":0.796,"align":0.858},"axis":null},"x":{"datum":22.0,"type":"quantitative","axis":null},"text":{"field":"num"}}},
{"data":{"name":"legend"},"mark":{"type":"text","align":"left","baseline":"middle","fontSize":15.5,"color":"#1e1e9e"},"encoding":{"y":{"field":"id","type":"ordinal","sort":null,"scale":{"type":"band","paddingInner":0,"paddingOuter":0.796,"align":0.858},"axis":null},"x":{"datum":25.6,"type":"quantitative","axis":null},"text":{"field":"val"}}}
]}
]
}
